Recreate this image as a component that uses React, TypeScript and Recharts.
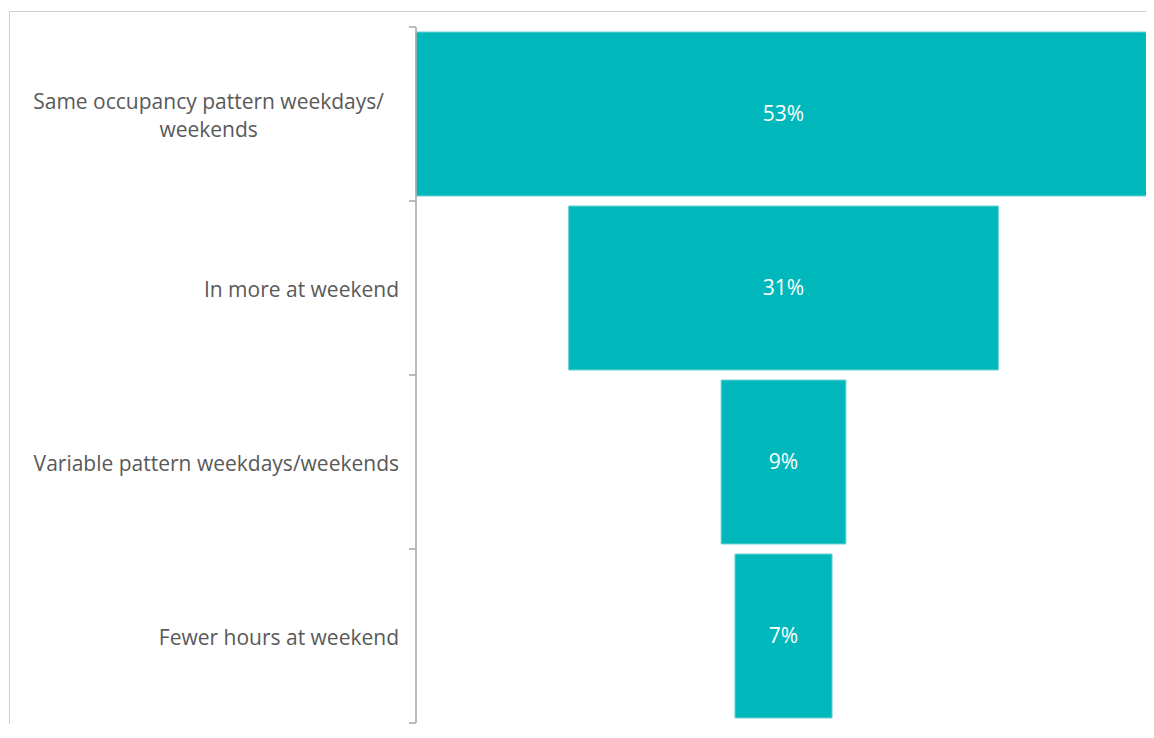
import React from "react";
import { BarChart, Bar, XAxis, YAxis, LabelList } from "recharts";

// ---- data ----
const categories = [
  "Same occupancy pattern weekdays/\nweekends",
  "In more at weekend",
  "Variable pattern weekdays/weekends",
  "Fewer hours at weekend",
];
const shares = [53, 31, 9, 7];

const maxShare = Math.max(...shares);
const data = categories.map((c, i) => ({
  name: c,
  pad: (maxShare - shares[i]) / 2,
  value: shares[i],
}));

// ---- layout ----
const W = 1146;
const H = 716;
const MARGIN = { top: 19, right: 3, bottom: 1, left: 0 };
const AXIS_W = 416 - 8;
const BAND = (H - MARGIN.top - MARGIN.bottom) / categories.length;
const FONT = "'Open Sans', sans-serif";
const LABEL_SIZE = 21;
const LINE_H = 28;
const TEAL = "#00b8bb";
const AXIS_COLOR = "#a6a6a6";

let ctx: CanvasRenderingContext2D | null = null;
const measure = (s: string) => {
  if (!ctx) {
    const c = document.createElement("canvas");
    ctx = c.getContext("2d");
  }
  if (!ctx) return s.length * 11;
  ctx.font = `${LABEL_SIZE}px 'Open Sans'`;
  return ctx.measureText(s).width;
};

const CatTick = (props: any) => {
  const { x, y, payload, index } = props;
  const lines = String(payload.value).split("\n");
  const blockW = Math.max(...lines.map(measure));
  const right = lines.length > 1 ? x - 15 : x;
  const cx = right - blockW / 2;
  const axisX = x + 17;
  const first = y + 9 - ((lines.length - 1) * LINE_H) / 2;
  return (
    <g>
      <line x1={axisX - 7} x2={axisX} y1={y - BAND / 2} y2={y - BAND / 2} stroke={AXIS_COLOR} strokeWidth={1.5} />
      {index === categories.length - 1 && (
        <line x1={axisX - 7} x2={axisX} y1={y + BAND / 2} y2={y + BAND / 2} stroke={AXIS_COLOR} strokeWidth={1.5} />
      )}
      <text textAnchor="middle" fill="#595959" fontSize={LABEL_SIZE} fontFamily={FONT}>
        {lines.map((l, i) => (
          <tspan key={i} x={cx} y={first + i * LINE_H}>
            {l}
          </tspan>
        ))}
      </text>
    </g>
  );
};

export default function App() {
  return (
    <div style={{ position: "relative", width: W, height: H, overflow: "hidden" }}>
      <div
        style={{
          position: "absolute",
          left: 1,
          top: 3,
          width: W + 20,
          height: H + 20,
          borderTop: "1px solid #d0d0d0",
          borderLeft: "1px solid #d0d0d0",
          boxSizing: "border-box",
        }}
      />
      <div style={{ position: "absolute", left: 0, top: 0 }}>
        <BarChart width={W} height={H} data={data} layout="vertical" margin={MARGIN} barCategoryGap={5}>
          <XAxis type="number" domain={[0, maxShare]} hide />
          <YAxis
            type="category"
            dataKey="name"
            width={AXIS_W}
            tickLine={false}
            tickSize={0}
            tickMargin={17}
            axisLine={{ stroke: AXIS_COLOR, strokeWidth: 1.5 }}
            tick={<CatTick />}
            interval={0}
          />
          <Bar dataKey="pad" stackId="f" fill="transparent" isAnimationActive={false} />
          <Bar dataKey="value" stackId="f" fill={TEAL} stroke="#6fd3d5" strokeWidth={1} isAnimationActive={false}>
            <LabelList
              dataKey="value"
              position="center"
              fill="#ffffff"
              fontSize={21}
              fontFamily={FONT}
              formatter={(v: any) => `${v}%`}
            />
          </Bar>
        </BarChart>
      </div>
    </div>
  );
}
